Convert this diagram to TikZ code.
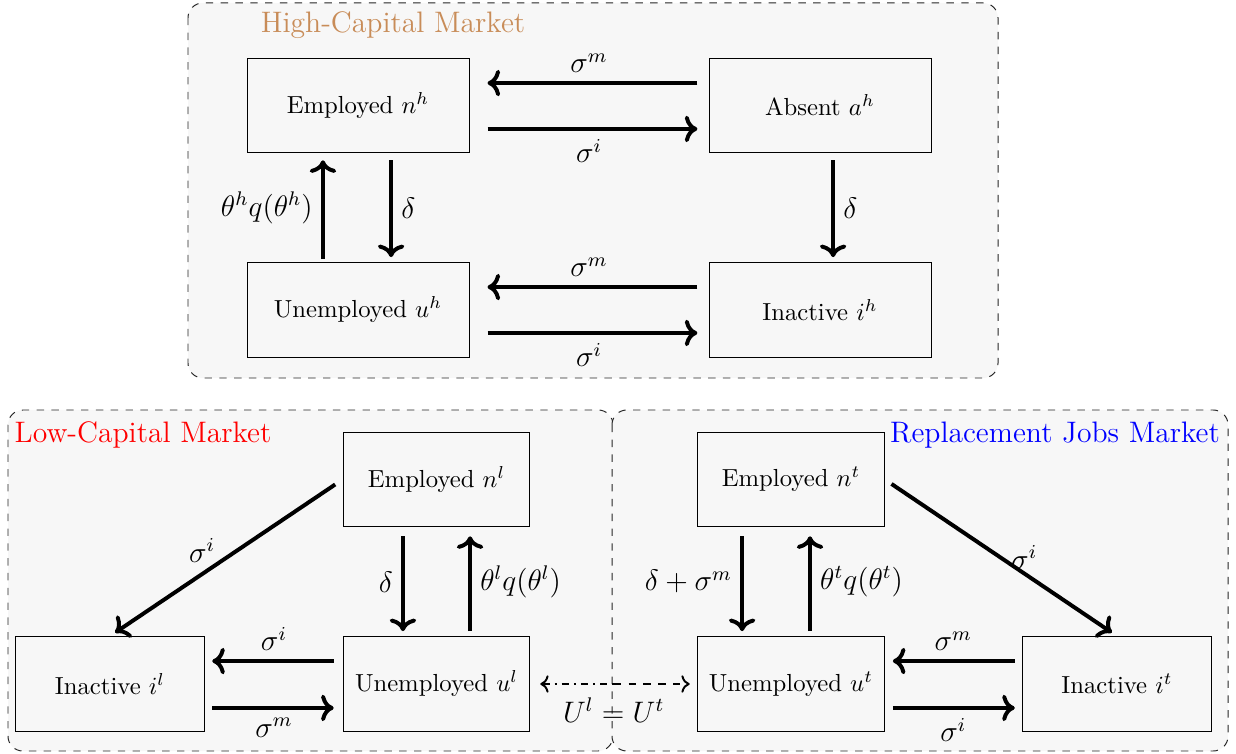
\documentclass[tikz,border=0pt]{standalone}
\usetikzlibrary{arrows.meta, positioning, calc}
\definecolor{hcbrown}{RGB}{200,140,88}

\begin{document}
\begin{tikzpicture}[x=0.01423cm, y=-0.01423cm,
  state/.style={draw, fill=black!3, minimum width=3.16cm, minimum height=1.35cm, inner sep=3pt},
  small/.style={state, minimum width=2.66cm},
  market/.style={draw=black!85, dashed, fill=black!3, rounded corners=6pt},
  flow/.style={->, ultra thick},
  lab/.style={font=\large}]
  \useasboundingbox (0,0) rectangle (1236,754);
  % market frames
  \draw[market] (188,3) rectangle (998,378);
  \draw[market] (8,410) rectangle (613,751);
  \draw[market] (612,410) rectangle (1228,751);
  \node[font=\large, text=hcbrown] (hct) at (393,25) {High-Capital Market};
  \node[font=\large, text=red] (lct) at (143,435) {Low-Capital Market};
  \node[font=\large, text=blue] (rjt) at (1055,435) {Replacement Jobs Market};

  % high-capital market
  \node[state] (nh) at (358,105.5) {Employed $n^h$};
  \node[state] (ah) at (820,105.5) {Absent $a^h$};
  \node[state] (uh) at (358,310) {Unemployed $u^h$};
  \node[state] (ih) at (820,310) {Inactive $i^h$};
  \draw[flow, shorten <=4.5pt, shorten >=7.3pt] ([yshift=9.1pt]ah.west) -- node[lab, above] {$\sigma^m$} ([yshift=9.1pt]nh.east);
  \draw[flow, shorten <=7.3pt, shorten >=4.5pt] ([yshift=-9.5pt]nh.east) -- node[lab, below] {$\sigma^i$} ([yshift=-9.5pt]ah.west);
  \draw[flow, shorten <=1.2pt, shorten >=2.8pt] ([xshift=-14.2pt]uh.north) -- node[lab, left] {$\theta^h q(\theta^h)$} ([xshift=-14.2pt]nh.south);
  \draw[flow, shorten <=2.8pt, shorten >=2pt] ([xshift=13.4pt]nh.south) -- node[lab, right] {$\delta$} ([xshift=13.4pt]uh.north);
  \draw[flow, shorten <=2.8pt, shorten >=2pt] ([xshift=5.3pt]ah.south) -- node[lab, right] {$\delta$} ([xshift=5.3pt]ih.north);
  \draw[flow, shorten <=4.5pt, shorten >=7.3pt] ([yshift=9.3pt]ih.west) -- node[lab, above] {$\sigma^m$} ([yshift=9.3pt]uh.east);
  \draw[flow, shorten <=7.3pt, shorten >=4.5pt] ([yshift=-9.3pt]uh.east) -- node[lab, below] {$\sigma^i$} ([yshift=-9.3pt]ih.west);

  % low-capital market
  \node[small] (nl) at (436.5,479.5) {Employed $n^l$};
  \node[small, minimum width=2.7cm] (il) at (110,684) {Inactive $i^l$};
  \node[small] (ul) at (436.5,684) {Unemployed $u^l$};
  \draw[flow, shorten <=3.6pt, shorten >=2.5pt] (nl.west) -- node[lab, pos=0.54, above left, inner sep=0pt] {$\sigma^i$} (il.north);
  \draw[flow, shorten <=3.6pt, shorten >=2pt] ([xshift=-13.6pt]nl.south) -- node[lab, left] {$\delta$} ([xshift=-13.6pt]ul.north);
  \draw[flow, shorten <=2pt, shorten >=3.6pt] ([xshift=13.6pt]ul.north) -- node[lab, right] {$\theta^l q(\theta^l)$} ([xshift=13.6pt]nl.south);
  \draw[flow, shorten <=3.6pt, shorten >=2.8pt] ([yshift=9.3pt]ul.west) -- node[lab, above] {$\sigma^i$} ([yshift=9.3pt]il.east);
  \draw[flow, shorten <=2.8pt, shorten >=3.6pt] ([yshift=-9.7pt]il.east) -- node[lab, below] {$\sigma^m$} ([yshift=-9.7pt]ul.west);

  % replacement jobs market
  \node[small] (nt) at (791,479.5) {Employed $n^t$};
  \node[small] (ut) at (791,684) {Unemployed $u^t$};
  \node[small, minimum width=2.7cm] (it) at (1117,684) {Inactive $i^t$};
  \draw[flow, shorten <=3.2pt, shorten >=2.5pt] (nt.east) -- node[lab, pos=0.6, above, inner sep=1pt] {$\sigma^i$} (it.north);
  \draw[flow, shorten <=3.6pt, shorten >=2pt] ([xshift=-19.8pt]nt.south) -- node[lab, left] {$\delta+\sigma^m$} ([xshift=-19.8pt]ut.north);
  \draw[flow, shorten <=2pt, shorten >=3.6pt] ([xshift=7.7pt]ut.north) -- node[lab, right] {$\theta^t q(\theta^t)$} ([xshift=7.7pt]nt.south);
  \draw[flow, shorten <=2.8pt, shorten >=3.2pt] ([yshift=9.3pt]it.west) -- node[lab, above] {$\sigma^m$} ([yshift=9.3pt]ut.east);
  \draw[flow, shorten <=3.2pt, shorten >=2.8pt] ([yshift=-9.7pt]ut.east) -- node[lab, below] {$\sigma^i$} ([yshift=-9.7pt]it.west);

  % link between the two unemployment pools
  \coordinate (mid) at ($(ul.east)!0.5!(ut.west)$);
  \draw[<-, thick, dash dot, shorten <=4pt] (ul.east) -- (mid);
  \draw[->, thick, dashed, shorten >=3pt] (mid) -- node[lab, pos=0, below=2pt] {$U^l = U^t$} (ut.west);
\end{tikzpicture}
\end{document}
